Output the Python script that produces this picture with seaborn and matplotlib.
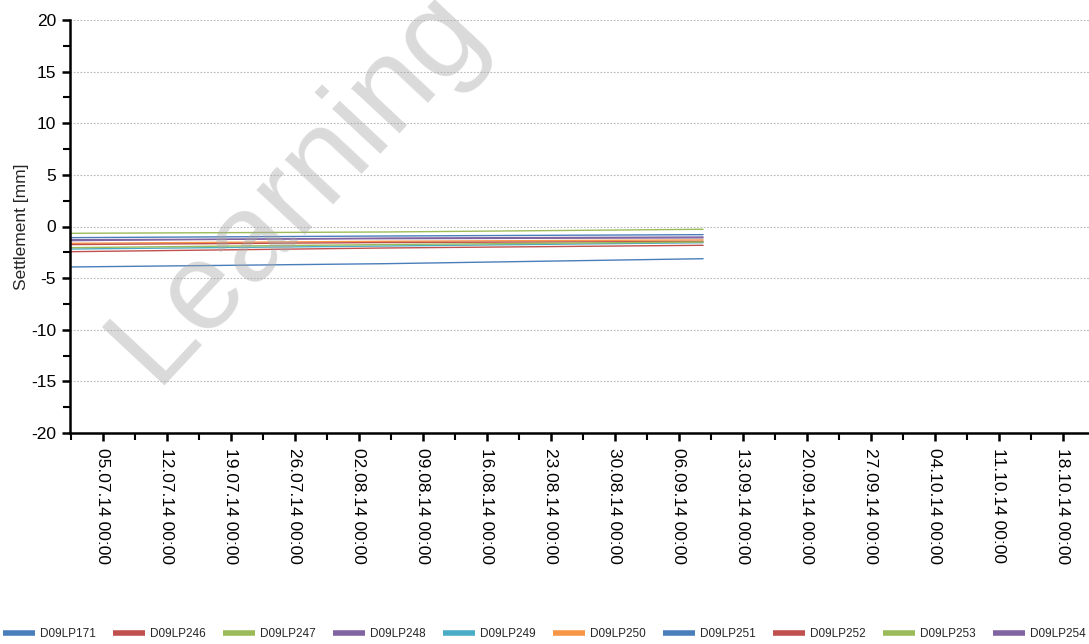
import numpy as np
import pandas as pd
import matplotlib
matplotlib.use('Agg')
import matplotlib.pyplot as plt
import matplotlib.dates as mdates
from matplotlib.ticker import MultipleLocator, FixedLocator
import seaborn as sns

# measurement points and readings (start / middle / end of the record)
points = ['D09LP171', 'D09LP246', 'D09LP247', 'D09LP248', 'D09LP249',
          'D09LP250', 'D09LP251', 'D09LP252', 'D09LP253', 'D09LP254']
dates = ['2014-07-01 10:00', '2014-08-05 00:00', '2014-09-08 16:00']
lp171 = [-3.92, -3.60, -3.12]
lp246 = [-2.44, -2.08, -1.82]
lp247 = [-0.66, -0.53, -0.27]
lp248 = [-1.37, -1.12, -1.02]
lp249 = [-2.18, -1.89, -1.57]
lp250 = [-1.63, -1.43, -1.30]
lp251 = [-1.08, -0.92, -0.79]
lp252 = [-1.75, -1.55, -1.45]
lp253 = [-2.05, -1.75, -1.50]
lp254 = [-1.28, -1.18, -1.10]
colors = ['#4a7ebb', '#c0504d', '#9bbb59', '#8064a2', '#4bacc6',
          '#f79646', '#4a7ebb', '#c0504d', '#9bbb59', '#8064a2']

series = [lp171, lp246, lp247, lp248, lp249, lp250, lp251, lp252, lp253, lp254]
rows = []
for name, vals in zip(points, series):
    for d, v in zip(dates, vals):
        rows.append({'date': pd.Timestamp(d), 'value': v, 'point': name})
df = pd.DataFrame(rows)

sns.set_style('white')
plt.rcParams['font.family'] = ['Liberation Sans', 'DejaVu Sans']
plt.rcParams['axes.unicode_minus'] = False

fig = plt.figure(figsize=(10.89, 6.44), dpi=100)
ax = fig.add_axes([70 / 1089, 1 - 433 / 644, 1030 / 1089, 413 / 644])

sns.lineplot(data=df, x='date', y='value', hue='point', hue_order=points,
             palette=colors, linewidth=1.0, ax=ax, legend=True)

ax.set_ylim(-20, 20)
ax.set_xlim(pd.Timestamp('2014-07-01 10:00'), pd.Timestamp('2014-10-22 02:00'))
ax.yaxis.set_major_locator(MultipleLocator(5))
ax.yaxis.set_minor_locator(MultipleLocator(2.5))
ax.xaxis.set_major_locator(mdates.WeekdayLocator(byweekday=mdates.SA))
minor = pd.date_range('2014-06-28', '2014-11-01', freq='7D') + pd.Timedelta(hours=84)
ax.xaxis.set_minor_locator(FixedLocator(mdates.date2num(minor)))
ax.xaxis.set_major_formatter(mdates.DateFormatter('%d.%m.%y %H:%M'))

ax.grid(axis='y', which='major', color='#b8b8b8', linestyle=(0, (1.5, 1.5)), linewidth=0.8)
ax.set_axisbelow(True)
for s in ['top', 'right']:
    ax.spines[s].set_visible(False)
for s in ['left', 'bottom']:
    ax.spines[s].set_color('black')
    ax.spines[s].set_linewidth(1.8)

ax.tick_params(axis='both', which='major', direction='out', length=6, width=1.8,
               colors='black', labelsize=12.5, left=True, bottom=True)
ax.tick_params(axis='both', which='minor', direction='out', length=5, width=1.5,
               colors='black', left=True, bottom=True)
ax.tick_params(axis='x', which='major', pad=5)
ax.tick_params(axis='y', which='major', pad=4)
plt.setp(ax.get_xticklabels(), rotation=270, ha='center', va='top')

ax.set_xlabel('')
ax.set_ylabel('Settlement [mm]', fontsize=12.5, labelpad=1.5)

handles, labels = ax.get_legend_handles_labels()
ax.get_legend().remove()
leg = fig.legend(handles, labels, loc='center left', bbox_to_anchor=(3 / 1089, 1 - 634 / 644),
                 ncol=len(points), frameon=False, fontsize=8.5, handlelength=2.7,
                 handletextpad=0.45, columnspacing=1.45, borderaxespad=0, borderpad=0)
for ln in leg.get_lines():
    ln.set_linewidth(4)
    ln.set_solid_capstyle('butt')

# watermark
fig.text(0.273, 0.712, 'Learning', rotation=47, fontsize=90, color='#a8a8a8',
         alpha=0.42, ha='center', va='center', zorder=10)

fig.savefig('out.png', dpi=100)
